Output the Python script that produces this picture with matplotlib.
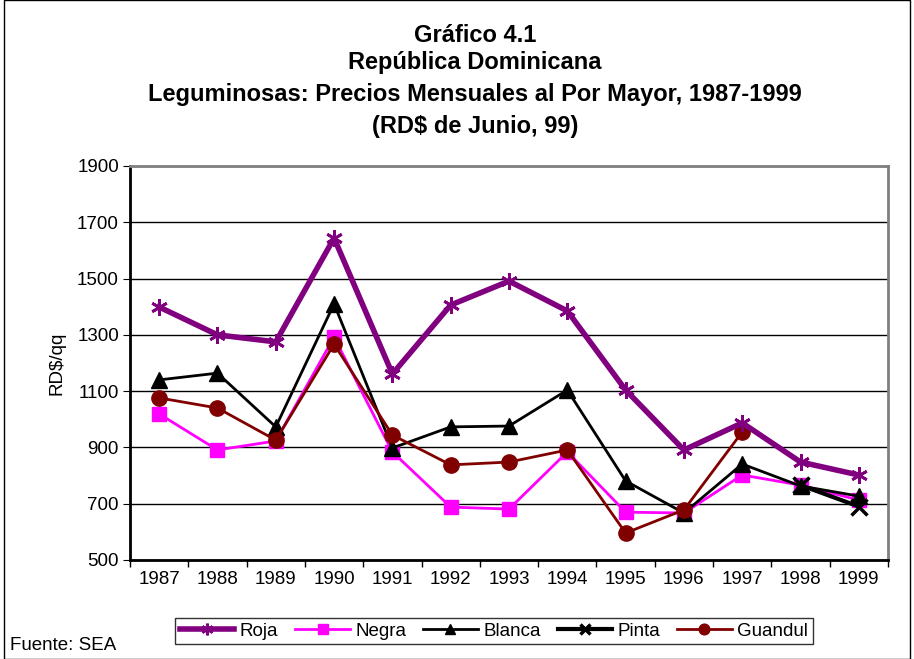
import numpy as np
import matplotlib.pyplot as plt
from matplotlib.patches import Rectangle

plt.rcParams['font.family'] = ['Liberation Sans', 'DejaVu Sans']

# datos
anios = ['1987', '1988', '1989', '1990', '1991', '1992', '1993',
         '1994', '1995', '1996', '1997', '1998', '1999']
roja = [1399, 1300, 1275, 1644, 1161, 1406, 1491, 1385, 1104, 891, 987, 848, 802]
negra = [1019, 891, 923, 1292, 884, 688, 681, 884, 670, 667, 802, 766, 713]
blanca = [1140, 1164, 973, 1410, 898, 973, 976, 1104, 781, 667, 841, 763, 727]
pinta = [np.nan] * 11 + [766, 690]
guandul = [1076, 1040, 926, 1267, 944, 838, 848, 891, 596, 678, 955, np.nan, np.nan]

x = np.arange(1, len(anios) + 1)

fig = plt.figure(figsize=(9.14, 6.59), dpi=100)
ax = fig.add_axes([130 / 914, 1 - 560 / 659, 758 / 914, 394 / 659])

ax.plot(x, roja, color='#800080', lw=4, marker=(6, 2, 0), ms=12, mew=2, label='Roja', zorder=6)
ax.plot(x, negra, color='#FF00FF', lw=2, marker='s', ms=10, label='Negra', zorder=3)
ax.plot(x, blanca, color='black', lw=2, marker='^', ms=11, label='Blanca', zorder=4)
ax.plot(x, pinta, color='black', lw=3, marker='x', ms=11, mew=2.5, label='Pinta', zorder=5)
ax.plot(x, guandul, color='#800000', lw=2, marker='o', ms=11, label='Guandul', zorder=4)

ax.set_xlim(0.5, len(anios) + 0.5)
ax.set_ylim(500, 1900)
ax.set_yticks(np.arange(500, 1901, 200))
ax.set_xticks(x)
ax.set_xticklabels(anios)
ax.set_xticks(np.arange(0.5, len(anios) + 1, 1), minor=True)
ax.tick_params(axis='x', which='major', length=0, pad=8, labelsize=13.5)
ax.tick_params(axis='x', which='minor', length=5, width=1)
ax.tick_params(axis='y', length=5, labelsize=13.5, pad=3)
ax.grid(axis='y', color='black', lw=1)
ax.set_axisbelow(True)
for s in ['left', 'bottom']:
    ax.spines[s].set_linewidth(2)
for s in ['top', 'right']:
    ax.spines[s].set_color('#808080')
    ax.spines[s].set_linewidth(2)

ax.set_ylabel('RD$/qq', fontsize=13.5, labelpad=8)

titulo = ['Gráfico 4.1', 'República Dominicana',
          'Leguminosas: Precios Mensuales al Por Mayor, 1987-1999',
          '(RD$ de Junio, 99)']
ys = [36, 63, 94, 126]
for t, yy in zip(titulo, ys):
    fig.text(475 / 914, 1 - yy / 659, t, ha='center', va='center',
             fontsize=17, fontweight='bold')

fig.text(10 / 914, 1 - 646 / 659, 'Fuente: SEA', ha='left', va='center', fontsize=13.5)

leg = fig.legend(loc='center', bbox_to_anchor=(494 / 914, 1 - 631 / 659), ncol=5,
                 fontsize=13.5, frameon=True, fancybox=False, edgecolor='black',
                 handlelength=2.9, handletextpad=0.3, columnspacing=0.9,
                 borderpad=0.25, markerscale=0.7)
leg.get_frame().set_linewidth(1)

fig.patches.append(Rectangle((4 / 914, 0), 906 / 914, 1, transform=fig.transFigure,
                             fill=False, edgecolor='black', lw=1))

fig.savefig('out.png', dpi=100)
